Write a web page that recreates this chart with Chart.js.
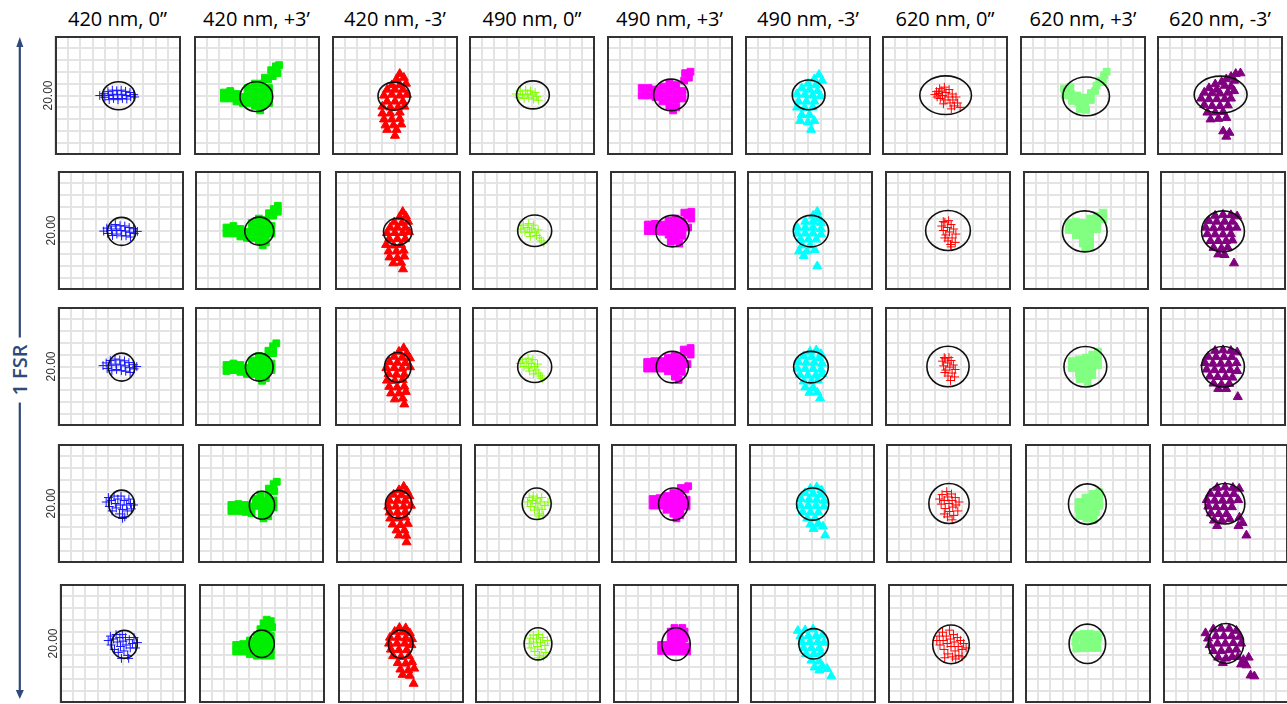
<!DOCTYPE html>
<html>
<head>
<meta charset="utf-8">
<script src="https://cdn.jsdelivr.net/npm/chart.js@4.4.1/dist/chart.umd.min.js"></script>
<style>
  body { margin: 0; background: #fff; }
  #page { position: relative; width: 1287px; height: 704px; overflow: hidden; }
  .panel { position: absolute; }
  .title { position: absolute; top: 9px; width: 140px; text-align: center;
           font: 400 20px/20px "Open Sans", sans-serif; color: #000; white-space: nowrap; }
  #fsr { position: absolute; left: 20px; top: 370px; transform: translate(-50%, -50%) rotate(-90deg);
         font: 600 20px/22px "Open Sans", sans-serif; color: #2f4a78; background: #fff;
         padding: 0 7px; white-space: nowrap; }
</style>
</head>
<body>
<div id="page">
  <svg width="40" height="704" style="position:absolute;left:0;top:0">
    <line x1="19.8" y1="45" x2="19.8" y2="692" stroke="#2f4a78" stroke-width="2.2"/>
    <polygon points="16.3,47 19.8,37 23.3,47" fill="#2f4a78"/>
    <polygon points="15.8,690 19.8,699 23.8,690" fill="#2f4a78"/>
  </svg>
  <div id="fsr">1 FSR</div>
</div>
<script>
// column headings (wavelength, field angle)
const titles = ["420 nm, 0\u201d", "420 nm, +3\u2019", "420 nm, -3\u2019",
                "490 nm, 0\u201d", "490 nm, +3\u2019", "490 nm, -3\u2019",
                "620 nm, 0\u201d", "620 nm, +3\u2019", "620 nm, -3\u2019"];
const colors = ["#1414ff", "#00ee00", "#ff0000", "#80ff00", "#ff00ff", "#00ffff", "#ff0000", "#80ff80", "#800080"];
const markers = ["cross", "rect", "triangle", "cross", "rect", "triangle", "cross", "rect", "triangle"];
const yTickLabel = "20.00";

// spot diagram points, one list per row (5 FSR positions), units 0..40
const spots420_0 = [
  [[14.2,20],[15.5,20.6],[15.8,19.4],[16.8,21.3],[17,20],[17.2,18.6],[18.2,21.8],[18.4,20.4],[18.6,19],[19.6,21.6],[19.8,20.2],[20,18.6],[21,21.8],[21.2,20.4],[21.4,19],[22.4,21.4],[22.6,20],[22.8,18.8],[23.8,21],[24,19.6],[25,20.3],[25.3,19.5]],
  [[14.5,19.8],[15.5,20.8],[15.8,19],[16.8,21.5],[17,20],[17.3,18.3],[18.2,22],[18.5,20.5],[18.7,18.8],[19.7,21.6],[20,20],[20.2,18.2],[21.2,21.5],[21.4,19.8],[21.6,18.2],[22.6,21],[22.8,19.4],[23,17.8],[24,20.6],[24.2,19],[25.2,19.7]],
  [[14.3,20.3],[15.3,21.2],[15.6,19.3],[16.6,22],[16.9,20.4],[17.1,18.6],[18.1,22.5],[18.4,20.8],[18.6,19],[19.6,22.2],[19.9,20.5],[20.1,18.6],[21.1,21.9],[21.3,20.2],[21.5,18.4],[22.5,21.3],[22.7,19.6],[22.9,18],[23.9,20.6],[24.2,19.2],[25,20]],
  [[15.3,20.5],[16,22],[16.3,19],[17,21],[17.2,17.5],[17.8,22.5],[18.2,20],[18.5,18.5],[19,21.5],[19.5,16.5],[19.8,19.5],[20,22.5],[20.5,18],[21,21],[21.2,15.5],[21.8,19.5],[22,17.5],[22.5,21.5],[23,20],[23.3,18.2],[24,19.5],[20.5,15]],
  [[15.3,21],[16,22.5],[16.2,19.5],[17,21.5],[17.3,18],[17.8,23],[18.2,20.5],[18.5,17],[19,22],[19.2,19],[19.8,23],[20,20.8],[20.3,17.5],[20.8,22],[21,19.5],[21.5,16],[22,21.3],[22.3,18.5],[23,20],[23.5,22],[24,18.5],[24.6,20.3],[19.5,15],[21.8,15]]
];
const spots420_p3 = [
  [[9.5,21],[9.5,19],[11.5,21.5],[11.5,19],[13.5,20.5],[13.5,18],[15.5,19.5],[15.5,17.5],[17,22.5],[17,20],[17,17.5],[19.3,24],[19.3,21.5],[19.3,19],[19.3,16.5],[21.6,24],[21.6,21.5],[21.6,19],[21.6,16.5],[23.8,22.5],[23.8,20],[23.8,17.5],[21,15],[23.5,25.5],[25,26.5],[24.5,28.5],[26.5,27.5],[26,29.8],[27,30.2],[22.5,26]],
  [[10,21],[10,19],[12.2,21.5],[12.2,19],[14.4,20.5],[14.4,18],[16.5,19.5],[16.5,17.5],[18,22.5],[18,20],[18,17.5],[20.3,24],[20.3,21.5],[20.3,19],[20.3,16.5],[22.5,23.5],[22.5,21],[22.5,18.5],[22.5,16],[24.3,21.5],[24.3,19],[21.5,15],[23.5,25.8],[24.8,25],[25,27.2],[26.3,26.3],[26.3,28.3]],
  [[10,20.5],[10,18.5],[12.2,21],[12.2,18.8],[14.4,20.5],[14.4,18.2],[16.5,19.5],[16.5,17.5],[18,22],[18,19.8],[18,17.5],[20.3,23.5],[20.3,21.2],[20.3,18.9],[20.3,16.6],[22.5,23],[22.5,20.7],[22.5,18.4],[22.5,16.1],[24.3,21],[24.3,18.8],[21.3,15.2],[23.3,25.3],[24.8,24.5],[24.8,26.8],[25.8,27.8]],
  [[10.6,19.5],[10.6,17.5],[12.8,19.8],[12.8,17.5],[15,19.5],[15,17.2],[17,19],[17,16.8],[18.3,21.5],[18.3,19.2],[19.8,23],[20.3,20.8],[20.3,18.5],[20.3,16.2],[22.3,22.5],[22.3,20.2],[22.3,17.9],[22.3,15.7],[24,21],[24,18.7],[20.8,15],[22.5,25],[24.2,24.2],[24,26.5],[25,27.3]],
  [[11.8,19.5],[11.8,17.3],[14,19.8],[14,17.3],[16.2,21],[16.2,18.7],[16.2,16.4],[18.4,22.8],[18.4,20.5],[18.4,18.2],[18.4,15.9],[20.6,22.8],[20.6,20.5],[20.6,18.2],[20.6,15.9],[22.8,22.5],[22.8,20.2],[22.8,17.9],[22.8,15.9],[19.5,24.8],[21.8,25],[23.2,25.5],[20.5,26.8],[22.8,27.5],[21.5,28]]
];
const spots420_m3 = [
  [[21.5,27.3],[22.8,26],[20.5,25.5],[23.5,24],[19,23.5],[21.5,23.5],[17.5,22],[20,22],[22.5,22],[16.5,20],[19,20.3],[21.5,20],[23.8,20.3],[17.5,18],[20,18],[22.5,18],[16,16.3],[18.5,16],[21,16],[23,16.3],[16,14],[18.5,14],[21.5,14.3],[16.5,12],[19,12],[21.5,12.2],[17,10],[19.5,10],[22,10.3],[17.5,8.5],[20.5,8.5],[20,6.5]],
  [[21.5,26.3],[22.5,24.8],[20.5,24.5],[23.2,23],[18.8,22.8],[21.2,22.5],[17.5,21],[19.8,21],[22.3,21],[16.5,19.2],[19,19.2],[21.5,19.2],[23.5,19.5],[17.2,17.2],[19.8,17.2],[22.3,17.2],[16.2,15.2],[18.6,15],[21,15.2],[17,13],[19.5,13],[21.8,13.3],[17.3,11],[19.8,10.8],[22,11.3],[18.5,9],[21,9.2],[21.6,7]],
  [[21.8,26.2],[20.3,25],[22.8,24.5],[18.8,23.3],[21.3,23],[23.8,22.8],[17.3,21.5],[19.8,21.3],[22.3,21.2],[16.3,19.5],[18.8,19.5],[21.3,19.3],[23.8,19.8],[17,17.5],[19.5,17.3],[22,17.3],[16.5,15.3],[19,15.2],[21.5,15.5],[17.2,13.2],[19.7,13],[22,13.3],[17.8,11],[20.3,11],[22.5,11.5],[19,9],[21.5,9.3],[22,7.3]],
  [[21.5,25.7],[20,24.5],[22.5,24.2],[18.3,23],[20.8,22.8],[23.3,22.5],[17,21],[19.5,21],[22,21],[16.6,19],[19,19],[21.5,19],[23.8,19.3],[17,17],[19.5,17],[22,17.2],[17.2,15],[19.7,15],[22,15.3],[18,13],[20.5,12.8],[22.8,13.2],[19.2,11],[21.7,11],[20,9.3],[22.3,9.2],[22.4,7]],
  [[19.5,25.3],[21.5,25.2],[18,24],[20.5,23.8],[22.8,23.5],[16.5,22],[19,22],[21.5,21.8],[23.5,21.5],[16.2,20],[18.7,20],[21.2,20],[23.3,19.5],[16.8,18],[19.3,17.8],[21.8,17.8],[17.5,15.8],[20,15.5],[22.5,15.8],[19,13.5],[21.5,13.3],[23.5,13.8],[19.8,11.3],[22.3,11],[24.2,11.6],[20.5,9.5],[22.8,9.2],[24,6.5]]
];
const spots490_0 = [
  [[15,20.5],[15.8,19.3],[16.3,21.5],[17,20.3],[17.5,19],[18,21.8],[18.5,20.5],[19,19.2],[19.5,21.5],[20,20.2],[20.5,18.8],[21,21],[21.5,19.6],[22,18.4]],
  [[15.5,20.5],[16.3,21.8],[16.8,19.5],[17.5,21],[18,22.3],[18.3,19.3],[19,20.5],[19.5,21.8],[20,19.5],[20.5,18.3],[21,20.2],[21.5,17.5],[22,16.5],[22.8,15.8],[18.5,18]],
  [[15.3,21],[16,22.3],[16.5,20],[17.2,21.5],[17.8,22.8],[18,19.5],[18.8,21],[19.3,22.3],[19.8,20],[20.3,18.8],[20.8,20.8],[21.2,17.8],[21.8,16.8],[22.3,16],[18.3,18.5],[19.5,17.5]],
  [[17,20.5],[17.5,22],[18,19],[18.5,21],[18.8,22.5],[19.2,17.8],[19.6,20],[20,21.8],[20.3,18.5],[20.8,16.5],[21,20.5],[21.5,22],[21.6,18],[22,16],[22.5,19.3],[20.5,15.8],[23.5,20.5]],
  [[17.2,20],[17.5,21.8],[17.8,18.5],[18.5,22.8],[18.6,20.5],[19,17.3],[19.5,21.5],[19.8,19],[20.2,23],[20.5,16],[20.8,20.3],[21,18],[21.5,22],[21.8,15.5],[22.2,19.3],[22.5,17],[23,21],[20,15.2]]
];
const spots490_p3 = [
  [[11,22.5],[11,20],[13.2,22.5],[13.2,20],[15.4,22],[15.4,19.5],[17.6,23],[17.6,20.5],[17.6,18],[19.8,24],[19.8,21.5],[19.8,19],[19.8,16.5],[22,23.5],[22,21],[22,18.5],[22,16],[24,21.5],[24,19],[21,15],[24.5,25],[26,26],[26.5,28],[24.8,27.5]],
  [[12,22],[12,19.8],[14.2,22.2],[14.2,19.8],[16.4,22],[16.4,19.6],[18.6,23.3],[18.6,21],[18.6,18.6],[20.8,24],[20.8,21.6],[20.8,19.2],[20.8,16.8],[23,23],[23,20.6],[23,18.2],[22,15.6],[24.8,21],[19.3,16.2],[24.5,25],[25.8,24],[25.8,26.3],[23.6,26]],
  [[11.8,21.5],[11.8,19.3],[14,21.8],[14,19.3],[16.2,21.8],[16.2,19.3],[18.4,23],[18.4,20.7],[18.4,18.4],[20.6,23.5],[20.6,21.2],[20.6,18.9],[20.6,16.6],[22.8,22.8],[22.8,20.5],[22.8,18.2],[21.8,15.5],[24.6,20.8],[24.3,24.8],[25.6,24],[25.6,26.2],[23.4,25.7]],
  [[13.2,21.5],[13.2,19.3],[15.4,21.8],[15.4,19.3],[17.6,22.5],[17.6,20.2],[17.6,17.9],[19.8,23.5],[19.8,21.2],[19.8,18.9],[19.8,16.6],[22,23],[22,20.7],[22,18.4],[22,16.1],[24,21.3],[24,19],[23.5,24.8],[24.5,25.8],[22.2,25.2],[20.8,15]],
  [[15.3,19.5],[15.3,17.5],[17.5,19.5],[17.5,17.3],[19.7,19.5],[19.7,17.3],[21.9,19.5],[21.9,17.3],[23.5,19],[23.5,17.3],[18.3,21.8],[20.5,21.8],[22.7,21.8],[18.3,24],[20.5,24],[22.7,24],[19.5,25.2],[22,25.2]]
];
const spots490_m3 = [
  [[23.5,27],[22,25.5],[24.5,25],[20,24],[22.5,23.5],[18,22.5],[20.5,22],[23,21.5],[16.5,20.5],[19,20.3],[21.5,20],[24,19.8],[17,18],[19.5,18],[22,18],[16.5,16],[19,15.8],[21.5,16],[18,13.5],[20.5,13.5],[17.5,11.5],[20,11],[22,11.5],[21,8.5]],
  [[22.3,26.3],[21,25],[23,24],[18.5,23],[21,23],[23.5,22.5],[16,21],[18.5,21],[21,21],[23.5,20.5],[16,19],[18.5,19],[21,19],[23.5,18.7],[17,17],[19.5,17],[22,17],[17.5,15],[20,15],[16.5,13],[19,13],[21.5,13.5],[18,11.5],[22.3,8]],
  [[22,25.5],[20,25],[23.5,24.2],[18,23.5],[20.5,23.2],[23,22.8],[16.3,21.5],[18.8,21.3],[21.3,21.3],[23.8,21],[16,19.3],[18.5,19.2],[21,19.2],[23.5,19],[16.8,17.2],[19.3,17],[21.8,17],[23.8,17.5],[18,15],[20.5,15],[22.5,15.3],[18.5,13],[21,12.8],[19.8,11.2],[22.3,11.3],[23.2,9.3]],
  [[21.5,25.5],[19.5,25],[23,24.5],[17.8,23.5],[20.3,23.3],[22.8,23],[16.5,21.5],[19,21.3],[21.5,21.3],[23.8,21],[16.3,19.3],[18.8,19.2],[21.3,19.2],[23.8,19],[17,17.2],[19.5,17],[22,17],[18.5,15],[21,15],[19.5,13],[22,13.2],[23.5,12.3],[20.5,11.5],[24.2,9.3]],
  [[15.2,24.3],[17.5,24.5],[20,24.8],[16,22.5],[18.5,22.5],[21,22.5],[23,22.8],[16.5,20.5],[19,20.5],[21.5,20.5],[23.5,20.3],[17,18.5],[19.5,18.5],[22,18.5],[17.8,16.5],[20.3,16.5],[22.5,16.8],[19.5,14.3],[22,14],[20.5,12],[23,12.3],[24.5,11.5],[22,11],[25.8,9]]
];
const spots620_0 = [
  [[16.8,20.3],[17.3,21.3],[17.5,19.5],[18,20.7],[18.3,22.3],[18.5,19],[19,21.5],[19.2,20],[19.8,22.8],[20,18.5],[20.3,21],[21,19.5],[21.3,22],[21.6,17.5],[22.3,20.5],[22.5,18.5],[23,16.5],[23.5,19.5],[24,17.5],[24.8,16],[22,15.5],[19.5,17.2]],
  [[18,21.5],[18.5,20],[19,22.8],[19.3,18.5],[19.8,21],[20.2,23.3],[20.5,19.5],[21,22],[21.3,17.5],[21.8,20.5],[22.3,16],[20,16.5],[21,14.5],[19,17.5],[22.5,18.8],[18.5,23],[20.8,15.3]],
  [[18.2,21.8],[18.6,20.2],[19.1,22.6],[19.3,18.8],[19.9,21.2],[20.3,23],[20.6,19.8],[21,22],[21.3,17.8],[21.7,20.5],[22.1,16.5],[20,16.8],[20.8,15.3],[19,18],[22.3,19],[18.8,23]],
  [[17,21.5],[17.5,19.8],[17.8,23],[18.5,21],[18.8,18.3],[19.3,24],[19.6,22.2],[20,20],[20.2,17.3],[20.8,23.2],[21,21],[21.2,18.8],[21.5,16],[22,22],[22.2,19.5],[22.8,17.5],[23.2,20.5],[19.5,15.5],[21,14.5],[18.5,16.5]],
  [[15.5,21],[16.3,22.5],[16.5,19.5],[17.3,23.8],[17.5,21],[17.8,18],[18.5,22.5],[18.8,20],[19,16.5],[19.5,24.5],[19.8,21.5],[20,19],[20.5,15.5],[20.8,23],[21,20.5],[21.3,17.5],[22,22],[22.3,19],[22.5,16],[23,21],[23.5,18],[24,20],[24.8,18.5],[21.5,14.8],[23.5,15.5],[18,15.2]]
];
const spots620_p3 = [
  [[14,22.3],[14.2,20],[16,22.8],[16.2,20.5],[16.5,18.2],[18.2,20],[18.5,17.7],[19,15.5],[20.7,17],[20.5,19.3],[21,15.2],[22.5,18.5],[22.5,20.8],[23.8,21.5],[24.3,23.3],[25.2,25],[26.3,24.5],[26.7,26.8],[27.5,28]],
  [[14.5,22.5],[14.5,20.2],[16.8,23],[16.8,20.7],[16.8,18.4],[19,22.5],[19,20.2],[19,17.9],[19,15.6],[21.3,24],[21.3,21.7],[21.3,19.4],[21.3,17.1],[21.3,14.8],[23.5,25],[23.5,22.7],[23.5,20.4],[25.5,26],[25.5,23.8],[19.8,14.2]],
  [[15.5,21.8],[15.5,19.5],[17.7,22.3],[17.7,20],[17.7,17.7],[19.9,23],[19.9,20.7],[19.9,18.4],[19.9,16.1],[22,24],[22,21.7],[22,19.4],[22,17.1],[20.5,14.8],[23.8,25],[23.8,22.7],[23.8,20.4],[18,15.8]],
  [[17,20.5],[17,18.2],[17.3,15.8],[19.2,22],[19.2,19.7],[19.2,17.4],[19.5,15],[21.4,23.2],[21.4,20.9],[21.4,18.6],[21.4,16.3],[23.6,23.8],[23.6,21.5],[23.6,19.2],[22.5,17],[21.8,14.5]],
  [[16.3,22.8],[16,20.5],[16.3,18.3],[18.5,23.2],[18.5,20.9],[18.5,18.4],[20.7,23.3],[20.7,21],[20.7,18.5],[22.9,23],[22.9,20.7],[22.9,18.5],[23.3,22]]
];
const spots620_m3 = [
  [[25,27.3],[26.5,27.5],[23.5,26.3],[22,25.5],[24.5,25],[20.5,24.5],[18.5,23.8],[21.5,23.3],[23.5,23],[16.5,22.5],[19,22],[15,21],[17.5,20.8],[20,20.7],[22.5,21],[24.5,21.5],[14,19],[16.5,18.8],[19,18.8],[21.5,18.8],[23.5,19],[15,16.8],[17.5,16.5],[20,16.5],[22.5,16.7],[16,14.3],[18.5,14.3],[21,14.5],[17,12],[19.5,12.2],[22,12.5],[21,8],[23,7.5],[22,6.2]],
  [[17.5,25],[20,25.3],[22.5,25.2],[24.5,24.8],[15.5,23.2],[18,23],[20.5,23],[23,23],[14.5,21],[17,20.8],[19.5,21],[22,21],[24.3,21],[15,18.8],[17.5,18.7],[20,18.7],[22.5,18.8],[16,16.5],[18.5,16.5],[21,16.5],[23,16.7],[17,14.2],[19.5,14],[21.5,14.3],[18.5,12],[20.5,11.8],[23.5,9]],
  [[17.5,25.3],[20,25.5],[22.5,25.3],[24.5,24.8],[15.3,23.3],[17.8,23.2],[20.3,23.2],[22.8,23.2],[14.3,21.2],[16.8,21],[19.3,21],[21.8,21],[24.3,21.2],[14.8,19],[17.3,18.8],[19.8,18.8],[22.3,18.8],[24.5,18.5],[15.8,16.7],[18.3,16.5],[20.8,16.5],[23,16.3],[17,14.3],[19.5,14],[22,14.2],[18.5,12.5],[21,12.5],[24.7,9.8]],
  [[17.5,25.3],[20,25.5],[22.5,25.3],[24.5,25],[15.3,23.3],[17.8,23.2],[20.3,23.2],[22.8,23.2],[14.2,21.2],[16.7,21],[19.2,21],[21.7,21],[24.2,21.2],[14.7,19],[17.2,18.8],[19.7,18.8],[22.2,18.8],[15.5,16.7],[18,16.5],[20.5,16.5],[16.5,14.3],[19,14.3],[21.5,14.8],[24.6,15.3],[25.6,13.5],[24.3,12.5],[17.5,12.5],[26.8,9.3]],
  [[13.5,23.5],[16,24.8],[18.5,25],[21,25],[23.3,24.3],[14.3,21.7],[16.8,22.5],[19.3,22.5],[21.8,22.5],[24.3,22.3],[14.8,19.5],[17.3,20],[19.8,20],[22.3,20.2],[24.8,20],[16,17.5],[18.5,17.5],[21,17.8],[23.3,18],[17.5,15.3],[20,15],[22,15.5],[19,13.5],[23.8,15.5],[25.5,14.5],[27.2,15.3],[24.8,13],[26.5,12.7],[27.8,9.3],[29,9]]
];

// airy disk per panel: [cx, cy, rx, ry]
const airyRow1 = [[20.2,19.9,5.2,4.7],[19.8,19.6,5.2,5.0],[19.7,19.8,5.1,4.7],[20.3,20.2,5.2,4.7],[20.3,20.2,5.5,5.3],[20.2,20.2,5.2,5.0],[20.2,20.1,8.2,6.5],[21,19.7,7.4,6.5],[20.2,20.3,8.4,6.2]];
const airyRow2 = [[20.2,19.7,4.5,4.7],[20.4,19.8,4.6,4.7],[19.9,19.6,4.5,4.5],[19.9,19.9,5.4,5.3],[19.8,19.8,5.3,5.3],[20.3,19.8,5.6,5.3],[20,20,7.1,6.7],[19.6,19.7,7.1,6.9],[20,19.7,6.8,6.9]];
const airyRow3 = [[20.2,19.8,4.2,4.7],[20.4,19.8,4.4,4.7],[19.9,19.7,4.2,5.0],[19.9,19.9,5.4,5.3],[19.8,19.8,5.1,5.3],[20.3,19.8,5.5,5.3],[20,20,6.7,6.8],[19.8,19.9,6.8,6.8],[20,19.9,6.8,6.8]];
const airyRow4 = [[20.2,19.8,4.1,4.7],[20.3,19.4,4.0,4.7],[19.9,19.7,4.2,4.7],[19.9,19.9,4.6,5.3],[19.8,19.8,4.7,5.4],[20.2,19.8,5.1,5.4],[20,20,6.4,6.7],[19.8,19.8,6.0,6.8],[20,19.9,6.3,6.8]];
const airyRow5 = [[20.4,19.7,4.1,4.7],[19.9,19.9,4.0,4.6],[19.9,19.8,3.9,4.7],[20,19.9,4.4,5.4],[20,19.8,4.5,5.5],[20.2,19.9,4.7,5.1],[20,19.7,5.8,6.5],[19.8,19.9,5.8,6.6],[20,20,5.6,6.7]];

const spotsByColumn = [spots420_0, spots420_p3, spots420_m3, spots490_0, spots490_p3, spots490_m3, spots620_0, spots620_p3, spots620_m3];
const airyByRow = [airyRow1, airyRow2, airyRow3, airyRow4, airyRow5];

// where the panels sit on the page
const rowTops = [36, 171, 307, 444, 584];
const colLefts = [
  [54.5, 193.5, 332, 469, 606.5, 745, 882, 1020, 1157],
  [57.5, 195, 334.5, 472, 609.5, 747, 885, 1023, 1160],
  [57.5, 195, 334.5, 472, 609.5, 747, 885, 1023, 1160],
  [57.5, 197.5, 336, 473.5, 611, 749, 886, 1025, 1162],
  [60, 199, 337.5, 475, 613, 749.5, 888, 1025, 1162.5]
];
const panelW = 126, panelH = 119, axisW = 24;

Chart.defaults.font.family = "'Liberation Sans', Arial, sans-serif";

// airy circle + black frame around each spot plot
const airyRing = {
  id: "airyRing",
  afterDatasetsDraw(chart, args, opts) {
    const { ctx, scales: { x, y } } = chart;
    const px = x.getPixelForValue(opts.cx), py = y.getPixelForValue(opts.cy);
    const rx = Math.abs(x.getPixelForValue(opts.cx + opts.rx) - px);
    const ry = Math.abs(y.getPixelForValue(opts.cy + opts.ry) - py);
    ctx.save();
    ctx.beginPath();
    ctx.ellipse(px, py, rx, ry, 0, 0, Math.PI * 2);
    ctx.lineWidth = 1.6;
    ctx.strokeStyle = "#111";
    ctx.stroke();
    ctx.restore();
  },
  afterDraw(chart) {
    const { ctx, chartArea: a } = chart;
    ctx.save();
    ctx.lineWidth = 2;
    ctx.strokeStyle = "#333";
    ctx.strokeRect(a.left + 1, a.top + 1, a.right - a.left - 2, a.bottom - a.top - 2);
    ctx.restore();
  }
};
Chart.register(airyRing);

const page = document.getElementById("page");

titles.forEach((t, c) => {
  const d = document.createElement("div");
  d.className = "title";
  d.textContent = t;
  d.style.left = (colLefts[0][c] + panelW / 2 - 70) + "px";
  page.appendChild(d);
});

const gridStyle = { color: "#e4e4e4", lineWidth: 2, drawTicks: false };
// marker size per point style
const markerRadius = { cross: 4.4, rect: 4.8, triangle: 5.2 };

for (let r = 0; r < 5; r++) {
  for (let c = 0; c < 9; c++) {
    const first = c === 0;
    const w = panelW + (first ? axisW : 0);
    const box = document.createElement("div");
    box.className = "panel";
    box.style.left = (colLefts[r][c] - (first ? axisW : 0)) + "px";
    box.style.top = rowTops[r] + "px";
    const cv = document.createElement("canvas");
    cv.width = w;
    cv.height = panelH;
    cv.style.width = w + "px";
    cv.style.height = panelH + "px";
    box.appendChild(cv);
    page.appendChild(box);

    const [cx, cy, rx, ry] = airyByRow[r][c];
    const pts = spotsByColumn[c][r].map(([x, y]) => ({ x, y }));
    const style = markers[c];
    new Chart(cv, {
      type: "scatter",
      data: {
        datasets: [{
          data: pts,
          pointStyle: style,
          pointRadius: markerRadius[style],
          borderWidth: 1,
          borderColor: colors[c],
          backgroundColor: colors[c]
        }]
      },
      options: {
        responsive: false,
        animation: false,
        events: [],
        layout: { padding: 0, autoPadding: false },
        plugins: {
          legend: { display: false },
          tooltip: { enabled: false },
          airyRing: { cx, cy, rx, ry }
        },
        scales: {
          x: {
            type: "linear", min: 0, max: 40,
            ticks: { display: false, stepSize: 4 },
            grid: gridStyle,
            border: { display: false }
          },
          y: {
            type: "linear", min: 0, max: 40,
            ticks: {
              display: first, stepSize: 4, autoSkip: false,
              callback: v => (v === 20 ? yTickLabel : ""),
              minRotation: 90, maxRotation: 90,
              crossAlign: "center", padding: -9,
              color: "#333", font: { size: 12 }
            },
            grid: gridStyle,
            border: { display: false },
            afterFit: first ? (s => { s.width = axisW; }) : undefined
          }
        }
      }
    });
  }
}
</script>
</body>
</html>
